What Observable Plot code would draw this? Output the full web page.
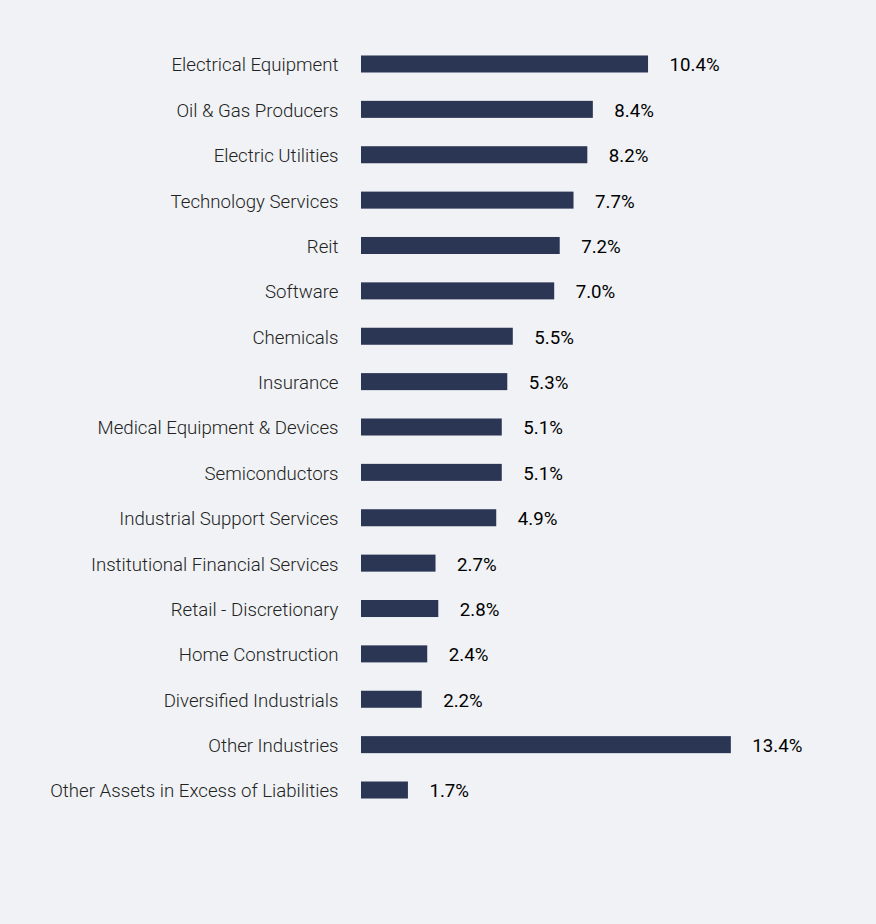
<!DOCTYPE html>
<html>
<head>
<meta charset="utf-8">
<script src="https://cdn.jsdelivr.net/npm/d3@7"></script>
<script src="https://cdn.jsdelivr.net/npm/@observablehq/plot@0.6"></script>
<style>
  html, body { margin: 0; padding: 0; background: #f0f2f5; }
  #chart svg { display: block; }
</style>
</head>
<body>
<div id="chart"></div>
<script>
const categories = [
  "Electrical Equipment",
  "Oil & Gas Producers",
  "Electric Utilities",
  "Technology Services",
  "Reit",
  "Software",
  "Chemicals",
  "Insurance",
  "Medical Equipment & Devices",
  "Semiconductors",
  "Industrial Support Services",
  "Institutional Financial Services",
  "Retail - Discretionary",
  "Home Construction",
  "Diversified Industrials",
  "Other Industries",
  "Other Assets in Excess of Liabilities"
];
const values = [10.4, 8.4, 8.2, 7.7, 7.2, 7.0, 5.5, 5.3, 5.1, 5.1, 4.9, 2.7, 2.8, 2.4, 2.2, 13.4, 1.7];
const valueLabels = ["10.4%", "8.4%", "8.2%", "7.7%", "7.2%", "7.0%", "5.5%", "5.3%", "5.1%", "5.1%", "4.9%", "2.7%", "2.8%", "2.4%", "2.2%", "13.4%", "1.7%"];

const data = categories.map((c, i) => ({category: c, value: values[i], label: valueLabels[i]}));

const chart = Plot.plot({
  width: 876,
  height: 924,
  marginLeft: 361,
  marginRight: 101,
  marginTop: 0,
  marginBottom: 0,
  style: {background: "#f0f2f5", fontFamily: "Roboto, sans-serif", fontSize: "18.67px"},
  x: {domain: [0, 15], range: [361, 775], axis: null},
  y: {domain: categories, range: [41.3, 812.7], paddingInner: 0.625, paddingOuter: 0.3125, round: false, label: null},
  marks: [
    Plot.barX(data, {x: "value", y: "category", fill: "#2b3654"}),
    Plot.text(data, {x: "value", y: "category", text: "label", dx: 21, dy: 1, textAnchor: "start", fill: "#000", fontSize: 18.67}),
    Plot.axisY({tickSize: 0, tickPadding: 23, dy: 1, fontSize: 18.67, fontWeight: 300, fill: "#222", label: null})
  ]
});
document.getElementById("chart").appendChild(chart);
</script>
</body>
</html>
